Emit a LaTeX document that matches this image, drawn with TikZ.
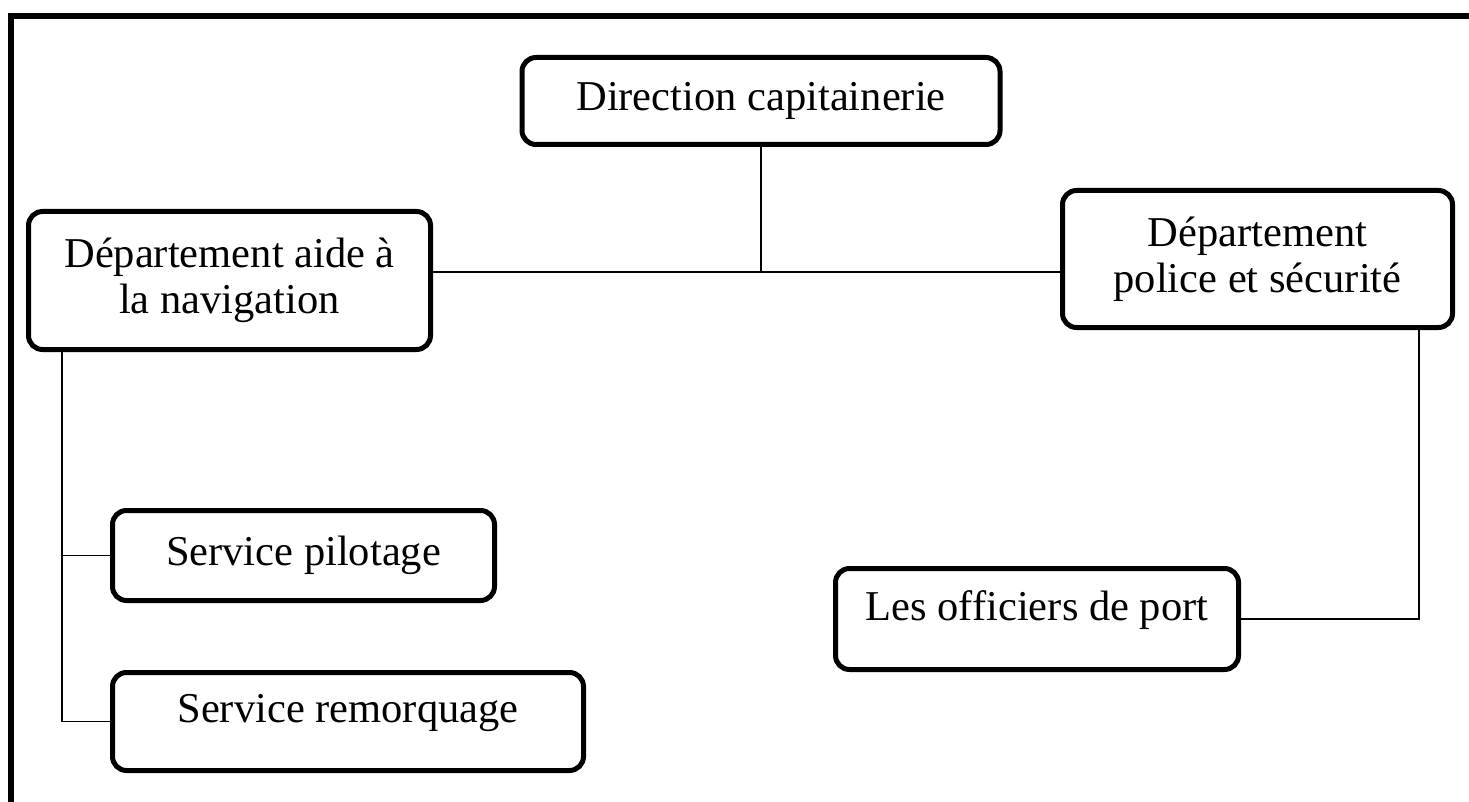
\documentclass[tikz,border=0pt]{standalone}
\usepackage{fontspec}
\setmainfont{Liberation Serif}
\begin{document}
\begin{tikzpicture}[x=1pt, y=-1pt,
  every node/.style={font=\fontsize{42.5}{46}\selectfont},
  orgbox/.style={draw, line width=5pt, rounded corners=14pt, align=center,
    inner sep=0pt},
  raisedtext/.style={text height=28pt, text depth=26pt},
  link/.style={line width=1.5pt},
  frameline/.style={line width=6pt, line join=miter}]
  \useasboundingbox (0,0) rectangle (1469,802);

  % outer frame (top and left edges)
  \draw[frameline] (11,802) -- (11,16) -- (1469,16);

  % boxes
  \node[orgbox, minimum width=478pt, minimum height=87pt] (dir) at (761,101)
    {Direction capitainerie};
  \node[orgbox, minimum width=402pt, minimum height=138pt] (aide) at (229.5,280.5)
    {Département aide à\\la navigation};
  \node[orgbox, minimum width=390pt, minimum height=137pt] (police) at (1257.5,259)
    {Département\\police et sécurité};
  \node[orgbox, minimum width=382pt, minimum height=90pt] (pilot) at (303.5,555.5)
    {Service pilotage};
  \node[orgbox, raisedtext, minimum width=471pt, minimum height=98pt] (remorq) at (348,721.5)
    {Service remorquage};
  \node[orgbox, raisedtext, minimum width=403pt, minimum height=101pt] (offic) at (1037,619)
    {Les officiers de port};

  % junction points
  \coordinate (hub) at (761,272);
  \coordinate (trunk) at (62,0);
  \coordinate (rtrunk) at (1419,0);

  % connectors
  \draw[link] (dir.south) -- (dir.south |- hub);
  \draw[link] (aide.east |- hub) -- (police.west |- hub);
  \draw[link] (aide.south -| trunk) |- (remorq.west);
  \draw[link] (trunk |- pilot.west) -- (pilot.west);
  \draw[link] (police.south -| rtrunk) |- (offic.east);
\end{tikzpicture}
\end{document}
